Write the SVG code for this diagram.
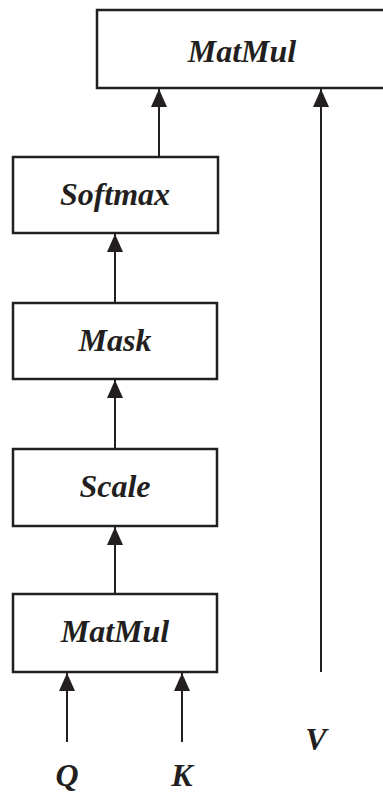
<svg xmlns="http://www.w3.org/2000/svg" width="383" height="795" viewBox="0 0 383 795">
<style>
.box{fill:#fff;stroke:#231f20;stroke-width:2.5}
.lbl{font-family:"Liberation Serif","Times New Roman",serif;font-weight:bold;font-style:italic;font-size:32px;fill:#231f20;text-anchor:middle}
.edge{stroke:#231f20;stroke-width:2;fill:none;marker-end:url(#arr)}
</style>
<defs>
<marker id="arr" markerUnits="userSpaceOnUse" markerWidth="18" markerHeight="16" refX="18" refY="8" orient="auto" viewBox="0 0 18 16">
<path d="M0,0 L18,8 L0,16 Z" fill="#231f20"/>
</marker>
</defs>
<g id="connectors">
<line class="edge" x1="67" y1="742" x2="67" y2="673"/>
<line class="edge" x1="182" y1="742" x2="182" y2="673"/>
<line class="edge" x1="115" y1="594" x2="115" y2="527"/>
<line class="edge" x1="115" y1="449" x2="115" y2="380"/>
<line class="edge" x1="115" y1="303" x2="115" y2="234"/>
<line class="edge" x1="159" y1="157" x2="159" y2="89"/>
<line class="edge" x1="321" y1="672" x2="321" y2="89"/>
</g>
<g id="matmul-top"><rect class="box" x="97" y="10" width="290" height="78"/><text class="lbl" x="242" y="62">MatMul</text></g>
<g id="softmax"><rect class="box" x="13" y="157" width="205" height="76"/><text class="lbl" x="115" y="205">Softmax</text></g>
<g id="mask"><rect class="box" x="13" y="303" width="204" height="76"/><text class="lbl" x="115" y="351">Mask</text></g>
<g id="scale"><rect class="box" x="13" y="449" width="204" height="77"/><text class="lbl" x="115" y="497">Scale</text></g>
<g id="matmul-bottom"><rect class="box" x="13" y="594" width="204" height="78"/><text class="lbl" x="115" y="642">MatMul</text></g>
<g id="q"><text class="lbl" x="67" y="786">Q</text></g>
<g id="k"><text class="lbl" x="182" y="786">K</text></g>
<g id="v"><text class="lbl" x="316" y="750">V</text></g>
</svg>
